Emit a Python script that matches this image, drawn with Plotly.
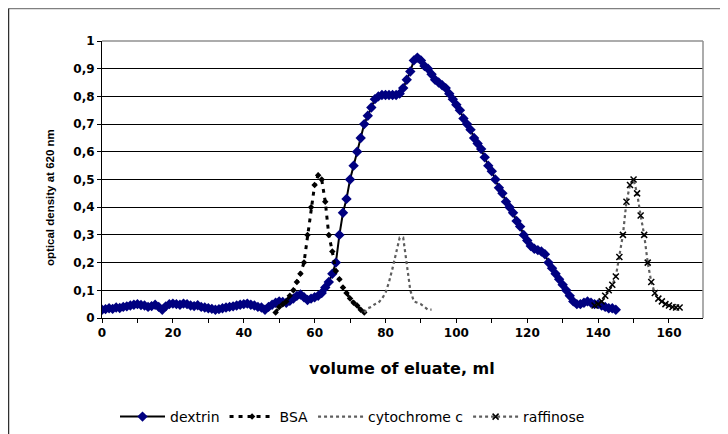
import plotly.graph_objects as go

# ---- data (volume of eluate, ml  /  optical density at 620 nm) ----
dextrin_x = list(range(0, 146))
dextrin_y = [0.030, 0.032, 0.035, 0.033, 0.038, 0.036, 0.040, 0.042, 0.045, 0.048,
             0.050, 0.047, 0.045, 0.040, 0.043, 0.048, 0.040, 0.030, 0.042, 0.050,
             0.052, 0.050, 0.048, 0.052, 0.050, 0.045, 0.043, 0.046, 0.040, 0.038,
             0.035, 0.033, 0.030, 0.032, 0.035, 0.038, 0.040, 0.042, 0.045, 0.048,
             0.050, 0.052, 0.048, 0.045, 0.040, 0.038, 0.030, 0.040, 0.048, 0.055,
             0.060, 0.058, 0.055, 0.062, 0.070, 0.080, 0.085, 0.075, 0.065, 0.070,
             0.075, 0.080, 0.090, 0.110, 0.130, 0.160, 0.200, 0.300, 0.380, 0.430,
             0.500, 0.550, 0.600, 0.650, 0.700, 0.730, 0.760, 0.790, 0.800, 0.805,
             0.805, 0.805, 0.805, 0.805, 0.810, 0.830, 0.860, 0.890, 0.930, 0.940,
             0.930, 0.910, 0.900, 0.880, 0.860, 0.850, 0.840, 0.830, 0.810, 0.790,
             0.770, 0.750, 0.720, 0.700, 0.680, 0.650, 0.630, 0.610, 0.580, 0.550,
             0.530, 0.500, 0.470, 0.450, 0.420, 0.400, 0.380, 0.350, 0.330, 0.300,
             0.280, 0.260, 0.250, 0.245, 0.240, 0.230, 0.200, 0.180, 0.160, 0.140,
             0.120, 0.100, 0.080, 0.060, 0.050, 0.050, 0.055, 0.060, 0.055, 0.050,
             0.050, 0.045, 0.040, 0.035, 0.035, 0.030]

bsa_x = list(range(49, 75))
bsa_y = [0.02, 0.04, 0.05, 0.06, 0.08, 0.10, 0.13, 0.16, 0.20, 0.30,
         0.40, 0.48, 0.515, 0.50, 0.42, 0.30, 0.24, 0.17, 0.14, 0.11,
         0.09, 0.07, 0.055, 0.045, 0.03, 0.02]

cyt_x = list(range(74, 94))
cyt_y = [0.02, 0.035, 0.04, 0.05, 0.055, 0.07, 0.09, 0.13, 0.18, 0.24,
         0.29, 0.29, 0.19, 0.10, 0.06, 0.055, 0.05, 0.04, 0.03, 0.03]

raf_x = list(range(139, 164))
raf_y = [0.045, 0.05, 0.06, 0.08, 0.10, 0.12, 0.15, 0.22, 0.30, 0.42,
         0.48, 0.50, 0.45, 0.37, 0.30, 0.20, 0.13, 0.09, 0.07, 0.06,
         0.05, 0.045, 0.04, 0.038, 0.038]

x_title = "volume of eluate, ml"
y_title = "optical density at 620 nm"

ARIAL = "Arial, Liberation Sans, sans-serif"
WIDE = "DejaVu Sans, sans-serif"

fig = go.Figure()
fig.add_trace(go.Scatter(
    x=dextrin_x, y=dextrin_y, name="dextrin", mode="lines+markers",
    line=dict(color="black", width=2),
    marker=dict(symbol="diamond", size=8, color="#000080", line=dict(width=0))))
fig.add_trace(go.Scatter(
    x=bsa_x, y=bsa_y, name="BSA", mode="lines+markers",
    line=dict(color="black", width=3, dash="4px,5px"),
    marker=dict(symbol="diamond", size=5, color="black")))
fig.add_trace(go.Scatter(
    x=cyt_x, y=cyt_y, name="cytochrome c", mode="lines",
    line=dict(color="#5e5e5e", width=2.2, dash="dot")))
fig.add_trace(go.Scatter(
    x=raf_x, y=raf_y, name="raffinose", mode="lines+markers",
    line=dict(color="#5e5e5e", width=2.2, dash="dot"),
    marker=dict(symbol="x-thin-open", size=6, color="black",
                line=dict(width=1.5, color="black"))))

# page body has an 8px margin, so figure coordinates = screen - 8
OFF = 8
W, H = 720, 426
L, T = 102 - OFF, 41 - OFF
RIGHT, BOTTOM = 703 - OFF, 318 - OFF
R, B = W - RIGHT, H - BOTTOM
pw = RIGHT - L
ph = BOTTOM - T

def px(xs):
    return (xs - OFF - L) / pw

def py(ys):
    return (BOTTOM - (ys - OFF)) / ph

fig.update_layout(
    width=W, height=H,
    margin=dict(l=L, r=R, t=T, b=B, autoexpand=False),
    paper_bgcolor="white", plot_bgcolor="white",
    separators=",.",
    font=dict(family=ARIAL, size=11, color="black"),
    showlegend=True,
    legend=dict(orientation="h", x=px(115), xanchor="left", y=py(417), yanchor="middle",
                font=dict(family=WIDE, size=14, color="black"),
                itemwidth=45, tracegroupgap=0, bgcolor="rgba(0,0,0,0)"),
    xaxis=dict(range=[0, 169.6], dtick=20, tick0=0, showgrid=False, zeroline=False,
               showline=True, linecolor="black", linewidth=1,
               ticks="outside", ticklen=4, tickcolor="black",
               minor=dict(dtick=10, ticks="outside", ticklen=4, tickcolor="black", showgrid=False),
               tickfont=dict(family=WIDE, size=12, color="black", weight="bold")),
    yaxis=dict(range=[0, 1], dtick=0.1, tick0=0, showgrid=True, gridcolor="black",
               gridwidth=1, zeroline=False, showline=True, linecolor="black", linewidth=1,
               ticks="outside", ticklen=4, tickcolor="black",
               tickfont=dict(family=WIDE, size=12, color="black", weight="bold")),
    shapes=[
        dict(type="line", xref="paper", yref="paper", x0=0, x1=1, y0=1, y1=1,
             line=dict(color="#909090", width=1.5)),
        dict(type="line", xref="paper", yref="paper", x0=1, x1=1, y0=0, y1=1,
             line=dict(color="#909090", width=1.5)),
        dict(type="line", xref="paper", yref="paper", x0=px(8.5), x1=px(740), y0=py(8.5), y1=py(8.5),
             line=dict(color="#808080", width=1.5)),
        dict(type="line", xref="paper", yref="paper", x0=px(8.5), x1=px(8.5), y0=py(8.5), y1=py(440),
             line=dict(color="#303030", width=1.5)),
    ],
    annotations=[
        dict(text=x_title, xref="paper", yref="paper", x=px(402), y=py(368),
             xanchor="center", yanchor="middle", showarrow=False,
             font=dict(family=WIDE, size=16, color="black", weight="bold")),
        dict(text=y_title, xref="paper", yref="paper", x=px(50), y=py(197),
             xanchor="center", yanchor="middle", showarrow=False, textangle=-90,
             font=dict(family=ARIAL, size=11.5, color="black", weight="bold")),
    ],
)

fig.write_html("out.html")
